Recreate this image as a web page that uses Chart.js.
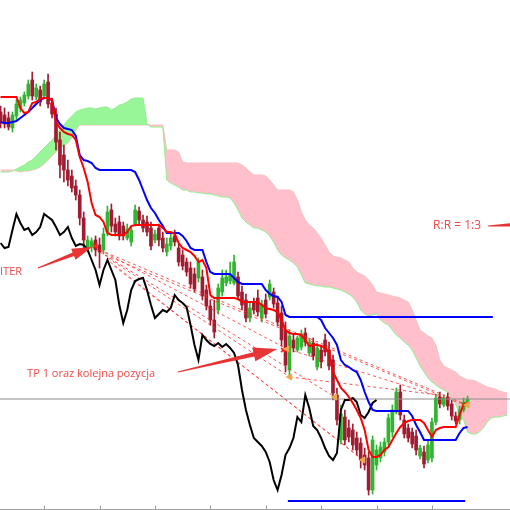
<!DOCTYPE html>
<html lang="pl">
<head>
<meta charset="UTF-8">
<title>Ichimoku</title>
<script src="https://cdn.jsdelivr.net/npm/chart.js@4.4.1/dist/chart.umd.min.js"></script>
<style>
    html, body { margin: 0; padding: 0; background: #fff; overflow: hidden; }
    #wrap { width: 510px; height: 510px; position: relative; }
</style>
</head>
<body>
<div id="wrap"><canvas id="myChart" width="510" height="510"></canvas></div>
<script>
    // candles, one per bar index (price in points)
    const openP = [398,395,392,382,394,402,407,414,430,413, 420,414,428,407,396,370,355,340,334,324,
        315,292,262,263,270,265,260,278,300,286, 288,284,272,268,286,299,290,288,282,270,
        282,272,258,264,274,262,255,248,242,236, 232,233,220,204,190,200,218,227,229,227,
        233,218,210,192,207,212,192,210,213,218, 207,197,180,140,170,160,163,177,157,167,
        143,160,170,160,150,115,70,93,82,80, 72,67,55,52,20,45,52,58,68,78,
        98,118,90,82,78,74,54,58,50,52, 88,113,105,113,106,94,90,100,106];
    const highP = [404,402,398,398,410,413,418,430,438,426, 424,430,436,412,402,378,365,350,340,330,
        320,298,274,272,274,272,282,304,306,292, 294,288,286,284,305,303,295,294,288,280,
        286,278,272,276,280,266,260,252,248,242, 252,240,225,210,210,226,240,240,248,255,
        238,224,216,208,212,220,210,216,230,222, 214,204,188,180,176,174,180,182,172,172,
        166,165,176,168,155,122,105,100,90,86, 78,72,62,58,74,65,68,72,96,105,
        122,125,95,86,82,80,65,64,70,92, 116,118,115,117,110,98,104,112,114];
    const lowP = [382,382,380,378,390,398,404,411,410,410, 404,411,402,392,360,332,328,324,318,310,
        285,262,258,258,254,242,256,274,278,274, 270,270,270,264,284,286,278,274,260,267,
        264,258,254,260,264,244,240,234,222,218, 228,210,200,185,172,196,214,224,226,225,
        210,200,188,188,196,194,188,192,210,202, 184,164,138,134,158,158,160,164,154,150,
        140,142,154,140,110,85,66,65,68,60, 55,42,40,15,16,40,48,54,65,73,
        96,90,72,68,62,55,51,42,47,48, 85,102,103,100,90,86,86,98,104];
    const closeP = [387,386,383,395,406,410,415,426,414,422, 408,426,406,396,368,345,340,330,322,315,
        292,270,270,269,260,258,276,298,284,278, 274,274,281,280,300,290,282,278,264,276,
        270,262,266,272,268,248,244,238,226,221, 248,214,204,190,178,222,232,233,235,248,
        214,205,192,202,200,198,206,196,226,206, 188,170,145,174,162,172,176,168,168,154,
        162,148,158,144,117,90,96,70,73,65, 60,50,45,20,70,60,63,68,92,100,
        118,95,76,72,66,60,62,46,65,88, 112,106,112,104,94,89,100,108,111];

    // ichimoku lines
    const tenkan = [413,413,413,413,413,402,397,398,407,408, 411,412,412,410,388,382,378,376,375,370,
        353,342,328,307,295,293,288,277,275,275, 275,275,278,284,285,285,285,285,285,285,
        285,282,278,278,276,267,262,260,258,254, 248,250,242,215,212,212,212,212,212,212,
        211,208,208,208,208,208,205,202,201,200, 198,190,180,177,176,176,175,170,164,165,
        165,164,162,158,138,130,122,118,113,107, 100,92,80,60,53,53,55,60,63,70,
        77,83,87,89,90,90,90,87,80,73, 80,82,83,83,83,83,95,106,107];
    const kijun = [388,387,387,388,389,392,395,398,402,406, 410,412,412,410,392,386,382,381,380,374,
        355,350,349,347,342,340,340,340,340,340, 340,340,340,340,338,330,320,310,302,297,
        290,284,277,277,277,277,274,269,262,260, 260,260,248,238,236,236,236,236,236,232,
        228,226,226,226,226,226,226,220,216,214, 213,208,195,193,193,193,193,193,193,193,
        193,190,182,177,172,165,150,145,143,140, 138,130,118,108,100,99,99,99,99,99,
        99,99,99,99,94,85,78,70,70,70, 70,70,70,70,70,70,77,82,83];
    const chikou = [267,262,263,280,296,287,280,282,275,278, 283,296,293,290,283,275,278,283,272,264,
        266,265,260,250,240,225,240,250,240,230, 205,187,200,220,229,231,232,220,205,192,
        196,200,198,202,215,210,207,203,185,165, 150,175,170,166,164,167,163,166,162,157,
        145,120,100,85,72,68,64,58,48,30, 20,35,55,62,72,93,88,115,102,84,
        80,72,62,54,50,57,100,110,110,112, 108,95,92,98,107,110];
    const spanA = [338,338,338,339,341,343,345,348,350,354, 358,362,366,370,375,380,385,390,394,398,
        400,401,402,402,401,402,403,403,400,402, 405,406,408,411,412,412,412,386,383,383,
        383,383,330,327,325,323,320,320,318,318, 317,317,316,316,315,314,313,313,312,307,
        300,292,288,285,282,282,280,278,274,268, 260,255,252,250,247,243,235,227,226,225,
        224,224,223,223,222,221,220,218,216,213, 208,200,196,194,195,196,190,187,185,180,
        175,172,168,165,160,152,144,138,132,128, 125,122,120,118,112,106,96,90,78,76,
        76,78,82,88,92,93,93,94,95];
    const spanB = [340,340,340,340,339,338,339,339,340,341, 343,346,350,354,358,362,364,367,372,380,
        385,385,385,385,385,385,385,385,385,385, 385,385,385,385,385,385,385,385,385,385,
        385,385,360,360,360,358,348,347,347,347, 347,347,347,347,347,347,347,347,347,347,
        347,345,342,338,335,335,335,334,330,325, 320,320,320,320,318,310,298,290,285,282,
        277,272,265,258,254,253,252,250,248,242, 238,236,234,230,225,218,217,216,215,214,
        213,212,210,208,200,190,180,177,174,172, 165,150,144,142,140,138,134,132,130,130,
        129,127,125,123,122,121,119,118,117];

    // trade drawings [bar, price]
    const fanLines = [
        [[25.1, 260], [117.9, 105]],
        [[26.4, 255], [111.0, 115]],
        [[25.1, 258], [84.5, 113]],
        [[27.7, 248], [91.6, 50]],
        [[25.1, 260], [72.4, 161]],
        [[27.1, 252], [73.1, 133]],
        [[28.7, 244], [91.6, 50]],
        [[72.4, 161], [117.9, 105]],
        [[73.1, 133], [111.0, 115]]
    ];
    const closedOrders = [[72.4, 161], [73.1, 133], [84.5, 113], [91.6, 50], [117.9, 105]];
    const entryMarks = [[23.9, 264], [71.4, 160]];
    const stopLevel = {from: 73.1, to: 124.4, price: 193};
    const targetLevel = {from: 72.6, to: 117.4, price: 9};
    const lastPrice = 111;
    const xTicks = [11, 25, 39, 53, 67, 81, 95, 109];

    const xMin = -0.15, xMax = 128.73;
    const bull = '#2fb52f', bear = '#a01c30';

    function pts(arr) { return arr.map((v, i) => ({x: i, y: v})); }

    const datasets = [
        {type: 'line', data: pts(spanA), borderColor: '#90ee90', borderWidth: 1, pointRadius: 0,
            fill: {target: 1, above: '#98f598', below: '#ffc0cb'}, order: 10},
        {type: 'line', data: pts(spanB), borderColor: '#ffb6c1', borderWidth: 1, pointRadius: 0,
            fill: false, order: 10},
        {type: 'bar', data: highP.map((h, i) => ({x: i, y: [lowP[i], h]})), grouped: false,
            barThickness: 1, backgroundColor: closeP.map((c, i) => c >= openP[i] ? bull : bear), order: 7},
        {type: 'bar', data: openP.map((o, i) => ({x: i, y: [o, closeP[i]]})), grouped: false,
            barThickness: 3, minBarLength: 1, backgroundColor: closeP.map((c, i) => c >= openP[i] ? bull : bear), order: 6}
    ];
    fanLines.forEach(l => datasets.push({type: 'line', data: l.map(p => ({x: p[0], y: p[1]})),
        borderColor: 'rgba(255,40,40,0.8)', borderWidth: 1, borderDash: [3, 3], pointRadius: 0, fill: false, order: 5}));
    datasets.push(
        {type: 'line', data: [{x: xMin, y: lastPrice}, {x: xMax, y: lastPrice}], borderColor: '#8c8c8c',
            borderWidth: 1, pointRadius: 0, fill: false, order: 4},
        {type: 'line', data: [{x: stopLevel.from, y: stopLevel.price}, {x: stopLevel.to, y: stopLevel.price}],
            borderColor: '#0000ff', borderWidth: 2, pointRadius: 0, fill: false, order: 3},
        {type: 'line', data: [{x: targetLevel.from, y: targetLevel.price}, {x: targetLevel.to, y: targetLevel.price}],
            borderColor: '#0000ff', borderWidth: 2, pointRadius: 0, fill: false, order: 3},
        {type: 'line', data: pts(chikou), borderColor: '#000', borderWidth: 2, pointRadius: 0, fill: false, order: 2},
        {type: 'line', data: pts(kijun), borderColor: '#0000ff', borderWidth: 2, pointRadius: 0, fill: false, order: 1},
        {type: 'line', data: pts(tenkan), borderColor: '#ff0000', borderWidth: 2, pointRadius: 0, fill: false, order: 0},
        {type: 'line', data: closedOrders.map(p => ({x: p[0], y: p[1]})), showLine: false, pointStyle: 'triangle',
            rotation: -90, pointRadius: 3.5, backgroundColor: '#f0a848', borderColor: '#f0a848', order: -1},
        {type: 'line', data: entryMarks.map(p => ({x: p[0], y: p[1]})), showLine: false, pointStyle: 'crossRot',
            pointRadius: 3, borderColor: '#ff2020', borderWidth: 1.5, order: -1}
    );

    // hand drawn notes on the chart
    const arrows = [
        {from: [9.45, 242], to: [23.1, 263], tail: 0.6, shaft: 2, head: 6, len: 20},
        {from: [44.8, 138], to: [69.9, 161], tail: 0.6, shaft: 2.2, head: 7, len: 24},
        {from: [123.2, 284], to: [139.0, 287], tail: 0.5, shaft: 2.5, head: 7, len: 25}
    ];
    const notes = [
        {text: 'ITER', at: [-0.15, 238], font: '11px "Open Sans"'},
        {text: 'TP 1 oraz kolejna pozycja', at: [6.7, 136], font: '11px "Open Sans"'},
        {text: 'R:R = 1:3', at: [109.3, 284], font: '12px "Open Sans"'}
    ];

    function drawArrow(ctx, x1, y1, x2, y2, a) {
        const dx = x2 - x1, dy = y2 - y1, l = Math.hypot(dx, dy);
        const ux = dx / l, uy = dy / l, nx = -uy, ny = ux;
        const bx = x2 - ux * a.len, by = y2 - uy * a.len;
        ctx.beginPath();
        ctx.moveTo(x1 + nx * a.tail, y1 + ny * a.tail);
        ctx.lineTo(bx + nx * a.shaft, by + ny * a.shaft);
        ctx.lineTo(bx + nx * a.head, by + ny * a.head);
        ctx.lineTo(x2, y2);
        ctx.lineTo(bx - nx * a.head, by - ny * a.head);
        ctx.lineTo(bx - nx * a.shaft, by - ny * a.shaft);
        ctx.lineTo(x1 - nx * a.tail, y1 - ny * a.tail);
        ctx.closePath();
        ctx.fill();
    }

    const overlay = {
        id: 'overlay',
        afterDraw(chart) {
            const {ctx, chartArea, scales: {x, y}} = chart;
            ctx.save();
            // time axis line with ticks
            const by = chartArea.bottom - 0.5;
            ctx.strokeStyle = '#a0a0a0';
            ctx.lineWidth = 1;
            ctx.beginPath();
            ctx.moveTo(chartArea.left, by);
            ctx.lineTo(chartArea.right, by);
            xTicks.forEach(t => {
                const px = Math.round(x.getPixelForValue(t)) + 0.5;
                ctx.moveTo(px, by);
                ctx.lineTo(px, by - 4);
            });
            ctx.stroke();

            ctx.fillStyle = '#e83434';
            arrows.forEach(a => drawArrow(ctx, x.getPixelForValue(a.from[0]), y.getPixelForValue(a.from[1]),
                x.getPixelForValue(a.to[0]), y.getPixelForValue(a.to[1]), a));

            ctx.fillStyle = '#f04848';
            ctx.textAlign = 'left';
            ctx.textBaseline = 'middle';
            notes.forEach(n => {
                ctx.font = n.font;
                ctx.fillText(n.text, x.getPixelForValue(n.at[0]), y.getPixelForValue(n.at[1]));
            });
            ctx.restore();
        }
    };

    const myChart = new Chart(document.getElementById('myChart'), {
        type: 'bar',
        data: {datasets: datasets},
        options: {
            responsive: false,
            animation: false,
            devicePixelRatio: 1,
            events: [],
            layout: {padding: 0, autoPadding: false},
            elements: {line: {tension: 0}},
            scales: {
                x: {type: 'linear', min: xMin, max: xMax, offset: false, display: false},
                y: {type: 'linear', min: 0, max: 510, display: false}
            },
            plugins: {legend: {display: false}, tooltip: {enabled: false}}
        },
        plugins: [overlay]
    });
</script>
</body>
</html>
